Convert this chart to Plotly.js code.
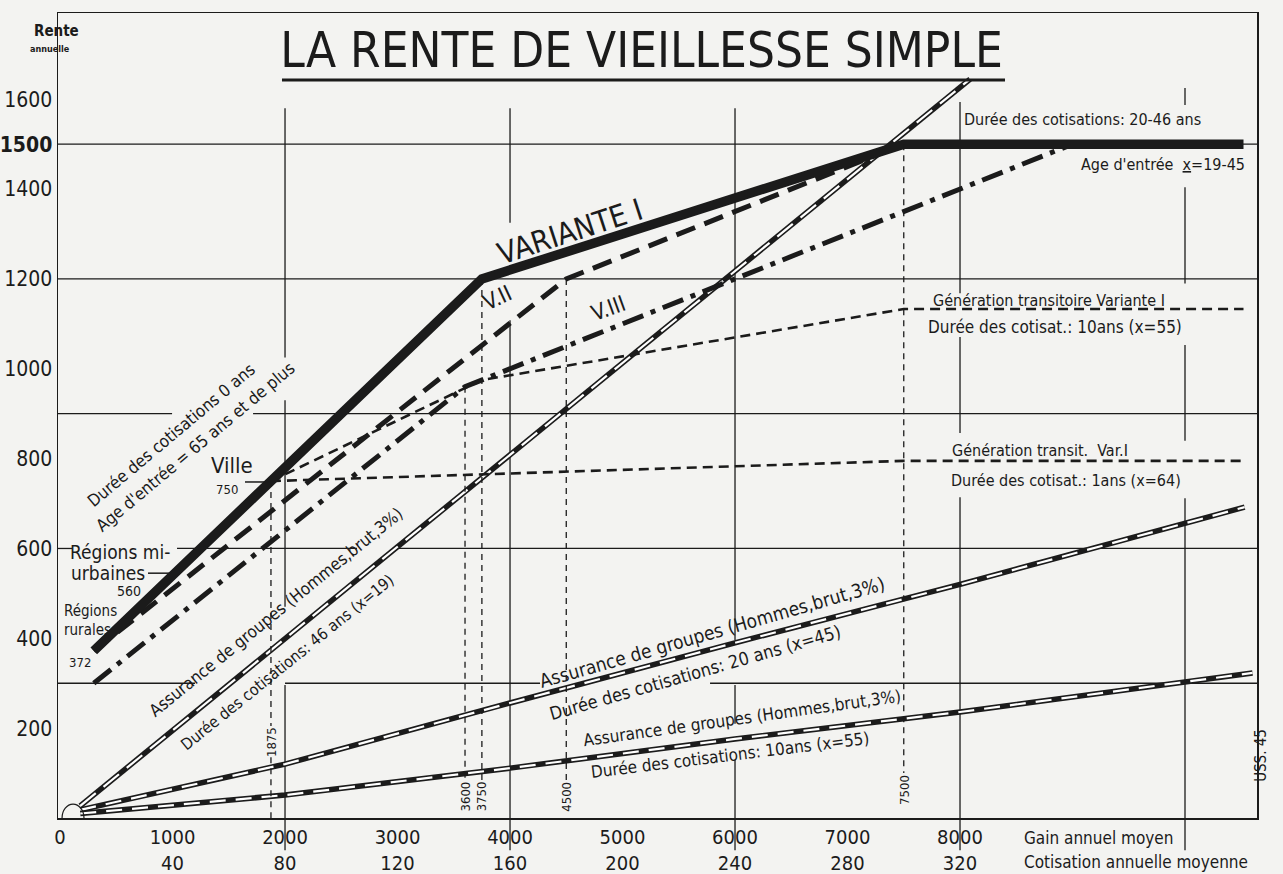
<!DOCTYPE html>
<html><head><meta charset="utf-8">
<script src="https://cdn.plot.ly/plotly-3.0.1.min.js"></script>
<style>html,body{margin:0;padding:0;background:#f3f3f1;}#chart{width:1283px;height:874px;}</style>
</head><body><div id="chart"></div>
<script>
// ---- tick labels ----
const gainTicks = [0, 1000, 2000, 3000, 4000, 5000, 6000, 7000, 8000];
const cotisTicks = ['', '40', '80', '120', '160', '200', '240', '280', '320'];
const renteTicks = [200, 400, 600, 800, 1000, 1200, 1400, 1500, 1600];

// ---- series (gain annuel moyen -> rente annuelle) ----
const varI_x = [300, 3750, 7500, 10520];
const varI_y = [372, 1200, 1500, 1500];
const varII_x = [300, 4500, 7500];
const varII_y = [372, 1200, 1500];
const varIII_x = [300, 3600, 9000];
const varIII_y = [300, 960, 1500];
const gen10_x = [1875, 3750, 7500, 10520];
const gen10_y = [750, 975, 1133, 1133];
const gen1_x = [1875, 7500, 10520];
const gen1_y = [750, 795, 795];
const ass46_x = [180, 8090];
const ass46_y = [27, 1645];
const ass20_x = [180, 2000, 4000, 6000, 8000, 10530];
const ass20_y = [18, 120, 256, 390, 520, 692];
const ass10_x = [180, 2000, 4000, 6000, 8000, 10600];
const ass10_y = [10, 51, 111, 176, 236, 323];

// reference values (vertical dashed markers)
const refGain = [1875, 3600, 3750, 4500, 7500];
const refRente = [750, 960, 1200, 1200, 1500];
const refLabel = ['1875', '3600', '3750', '4500', '7500'];

// grid segments (decoration)
const hGrid = [[1500, [[-18, 10640]]], [1200, [[-18, 10640]]], [900, [[-18, 996], [1716, 10640]]],
  [600, [[-18, 107], [1040, 2640], [2960, 10640]]], [300, [[-18, 1200], [2000, 4267], [5778, 10640]]]];
const vGrid = [[2000, [[0, 296], [470, 930], [1025, 1580]]], [4000, [[0, 1108], [1325, 1580]]],
  [6000, [[0, 129], [210, 296], [396, 1580]]], [8000, [[0, 714], [857, 1071], [1168, 1594]]],
  [10000, [[0, 712], [840, 1053], [1190, 1404], [1587, 1625]]]];

const INK = '#1b1b1b';
const BG = '#f3f3f1';
const FONT = "'Liberation Sans Narrow', 'DejaVu Sans Condensed', 'Arial Narrow', sans-serif";

function line(x, y, w, dash, color) {
  return {x, y, type: 'scatter', mode: 'lines', hoverinfo: 'skip',
    line: {color: color || INK, width: w, dash: dash || 'solid'}};
}

const traces = [];
// assurance lines: black band with white dashes inside
[[ass46_x, ass46_y, '20px,10px'], [ass20_x, ass20_y, '16px,10px'], [ass10_x, ass10_y, '16px,10px']].forEach(a => {
  traces.push(line(a[0], a[1], 5.5));
  traces.push(line(a[0], a[1], 2.2, a[2], '#ffffff'));
});
traces.push(line(gen10_x, gen10_y, 2.6, '10px,6px'));
traces.push(line(gen1_x, gen1_y, 2.6, '10px,6px'));
traces.push(line(varIII_x, varIII_y, 5, '22px,8px,5px,8px'));
traces.push(line(varII_x, varII_y, 5, '20px,10px'));
traces.push(line(varI_x, varI_y, 9.5));

// vertical reference dashed lines
refGain.forEach((g, i) => {
  if (i === 0) {
    traces.push(line([g, g], [refRente[i], 205], 1.3, '6px,5px'));
    traces.push(line([g, g], [135, 0], 1.3, '6px,5px'));
  } else {
    traces.push(line([g, g], [refRente[i], i === 4 ? 100 : 84], 1.3, '6px,5px'));
  }
});

const shapes = [];
hGrid.forEach(h => h[1].forEach(s => shapes.push({type: 'line', xref: 'x', yref: 'y', x0: s[0], x1: s[1], y0: h[0], y1: h[0], line: {color: INK, width: 1.3}, layer: 'below'})));
vGrid.forEach(v => v[1].forEach(s => shapes.push({type: 'line', xref: 'x', yref: 'y', x0: v[0], x1: v[0], y0: s[0], y1: s[1], line: {color: INK, width: 1.3}, layer: 'below'})));
[2000, 4000, 6000, 8000, 10000].forEach(g => shapes.push({type: 'line', xref: 'x', yref: 'paper', x0: g, x1: g, y0: 0, y1: -0.04, line: {color: INK, width: 1.3}}));
// title underline
shapes.push({type: 'line', xref: 'x', yref: 'y', x0: 1973, x1: 8400, y0: 1643, y1: 1643, line: {color: INK, width: 3}});
// small leader lines
shapes.push({type: 'line', xref: 'x', yref: 'y', x0: 782, x1: 978, y0: 545, y1: 545, line: {color: INK, width: 1.5}});
shapes.push({type: 'line', xref: 'x', yref: 'y', x0: 1644, x1: 1893, y0: 748, y1: 748, line: {color: INK, width: 1.5}});
// origin arc
shapes.push({type: 'circle', xref: 'x', yref: 'y', x0: 18, x1: 213, y0: -31, y1: 31, line: {color: INK, width: 1.2}});

function A(text, x, y, size, angle, extra) {
  return Object.assign({text, x, y, xref: 'x', yref: 'y', showarrow: false, textangle: angle || 0,
    font: {family: FONT, size, color: INK}, xanchor: 'center', yanchor: 'middle'}, extra || {});
}
const anns = [
  A('Durée des cotisations 0 ans', 987, 853, 17, -40),
  A("Age d'entrée = 65 ans et de plus", 1200, 826, 17, -40),
  A('VARIANTE I', 4533, 1305, 30, -18),
  A('V.II', 3893, 1158, 22, -25),
  A('V.III', 4871, 1135, 22, -20),
  A('Ville', 1529, 784, 22, 0),
  A('750', 1484, 732, 13, 0),
  A('Régions mi-', 533, 592, 19, 0),
  A('urbaines', 427, 545, 19, 0),
  A('560', 613, 505, 14, 0),
  A('Régions', 267, 461, 15, 0),
  A('rurales', 240, 418, 15, 0),
  A('372', 178, 347, 13, 0),
  A('Assurance de groupes (Hommes,brut,3%)', 1920, 458, 17, -39),
  A('Durée des cotisations: 46 ans (x=19)', 2018, 347, 16, -39),
  A('Assurance de groupes (Hommes,brut,3%)', 5796, 414, 19, -16),
  A('Durée des cotisations: 20 ans (x=45)', 5644, 325, 18, -16),
  A('Assurance de groupes (Hommes,brut,3%)', 6062, 222, 17, -8),
  A('Durée des cotisations: 10ans (x=55)', 5956, 140, 17, -7),
  A('Durée des cotisations: 20-46 ans', 9093, 1556, 16, 0),
  A("Age d'entrée  <u>x</u>=19-45", 9804, 1454, 16, 0),
  A('Génération transitoire Variante I', 8791, 1153, 16, 0),
  A('Durée des cotisat.: 10ans (x=55)', 8844, 1093, 17, 0),
  A('Génération transit.  Var.I', 8711, 819, 16, 0),
  A('Durée des cotisat.: 1ans (x=64)', 8942, 752, 16, 0),
  {text: '<b>Rente</b>', xref: 'paper', yref: 'paper', x: -0.0217, y: 0.991, showarrow: false, font: {family: FONT, size: 15, color: INK}},
  {text: '<b>annuelle</b>', xref: 'paper', yref: 'paper', x: -0.025, y: 0.964, showarrow: false, font: {family: FONT, size: 9, color: INK}},
  {text: 'USS. 45', xref: 'paper', yref: 'paper', x: 1.0125, y: 0.043, showarrow: false, textangle: -90, font: {family: FONT, size: 15, color: INK}},
  {text: 'Gain annuel moyen', xref: 'x', yref: 'paper', x: 8551, y: -0.0248, xanchor: 'left', yanchor: 'middle', showarrow: false, font: {family: FONT, size: 17, color: INK}},
  {text: 'Cotisation annuelle moyenne', xref: 'x', yref: 'paper', x: 8551, y: -0.0547, xanchor: 'left', yanchor: 'middle', showarrow: false, font: {family: FONT, size: 17, color: INK}}
];
refGain.forEach((g, i) => anns.push(A(refLabel[i], g, i === 0 ? 169 : (i === 4 ? 62 : 48), 13, -90)));

const layout = {
  width: 1283, height: 874,
  paper_bgcolor: BG, plot_bgcolor: BG,
  margin: {l: 58, r: 26, t: 13, b: 56},
  showlegend: false,
  title: {text: 'LA RENTE DE VIEILLESSE SIMPLE', font: {family: FONT, size: 49, color: INK},
    x: 0.5, xref: 'container', xanchor: 'center', y: 0.943, yref: 'container', yanchor: 'middle'},
  xaxis: {range: [-18, 10640], tickvals: gainTicks,
    ticktext: gainTicks.map((g, i) => i === 0 ? '0' : g + '<br>' + cotisTicks[i]),
    showgrid: false, zeroline: false, showline: true, mirror: true, linecolor: INK, linewidth: 1.5,
    ticks: '', tickfont: {family: FONT, size: 20, color: INK}, fixedrange: true},
  yaxis: {range: [0, 1792], tickvals: renteTicks,
    ticktext: renteTicks.map(v => v === 1500 ? '<b>1500</b>' : String(v)),
    showgrid: false, zeroline: false, showline: true, mirror: true, linecolor: INK, linewidth: 1.5,
    ticks: '', tickfont: {family: FONT, size: 21, color: INK}, fixedrange: true},
  shapes, annotations: anns
};
Plotly.newPlot('chart', traces, layout, {displayModeBar: false, staticPlot: true});
</script></body></html>
